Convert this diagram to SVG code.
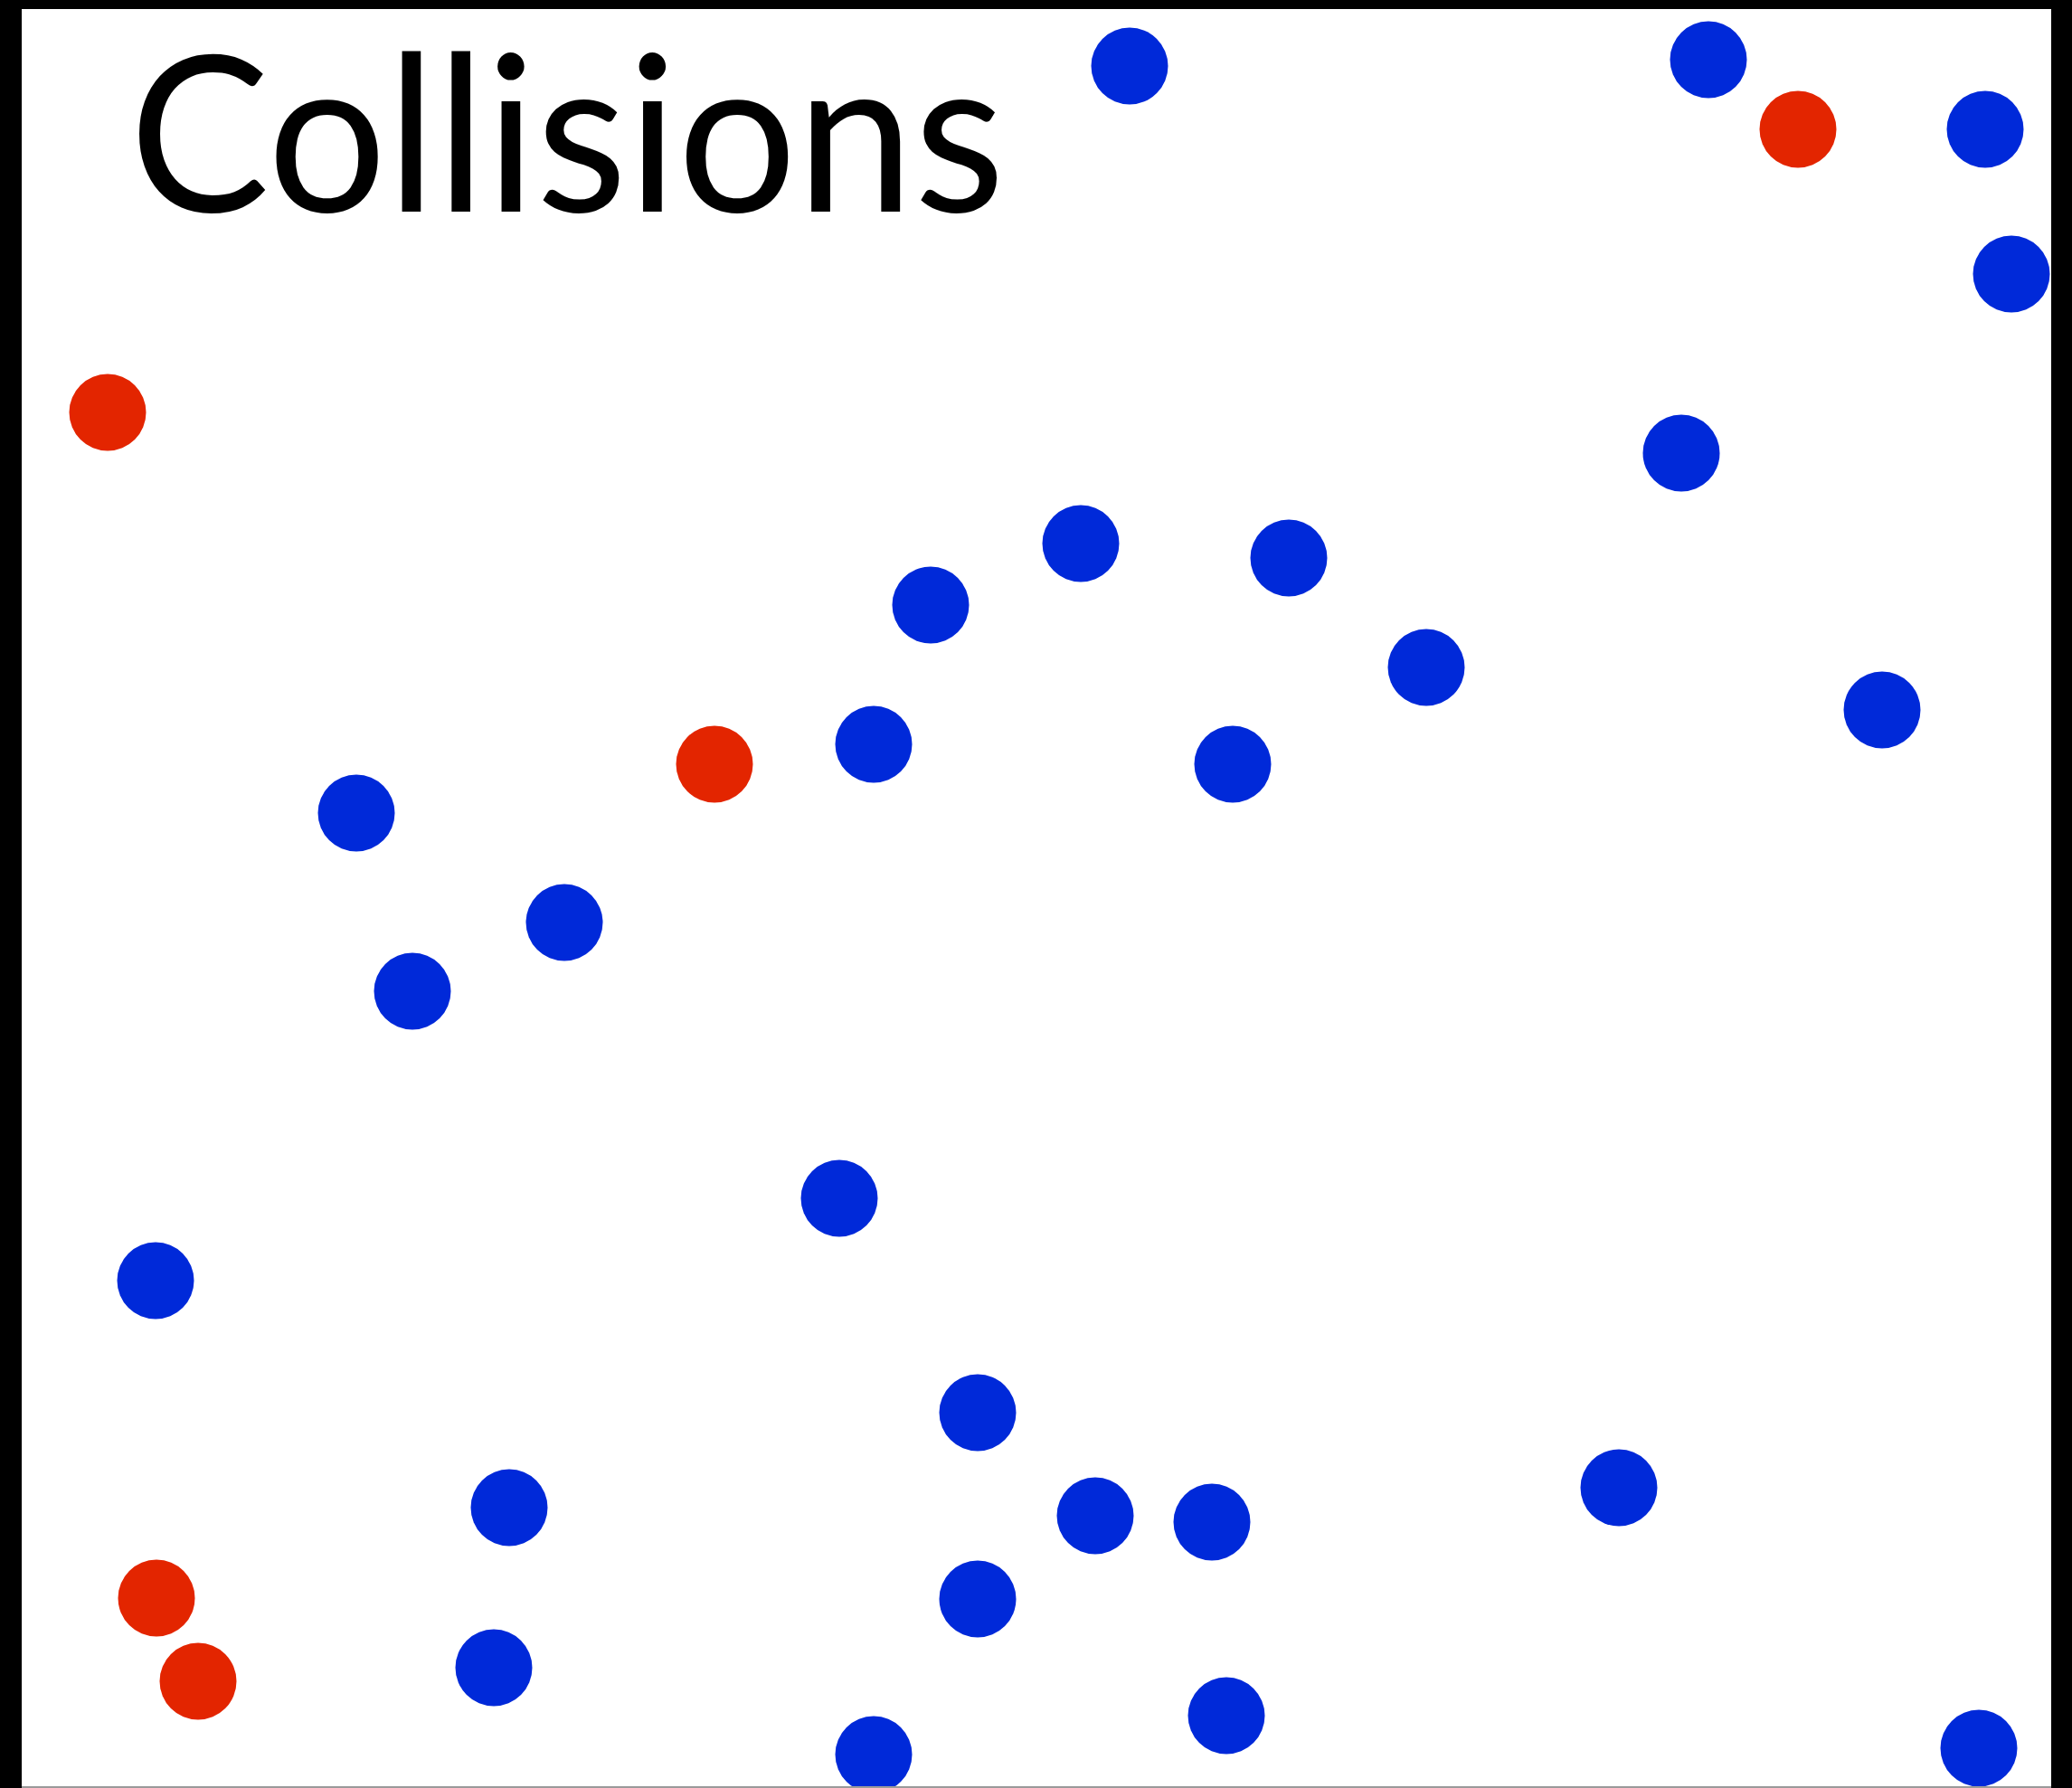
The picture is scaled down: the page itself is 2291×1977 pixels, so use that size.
<svg xmlns="http://www.w3.org/2000/svg" width="2291" height="1977" viewBox="0 0 2291 1977">
<style>
.b{fill:#0029d9}
.r{fill:#e32500}
.frame{fill:#000}
.title{font-family:Lato,"Open Sans","Liberation Sans",sans-serif;font-size:240px;fill:#000}
</style>
<rect x="0" y="0" width="2291" height="1977" fill="#ffffff"/>
<g id="dots">
<circle class="b" cx="1249" cy="73" r="42.5"/>
<circle class="b" cx="1889" cy="66" r="42.5"/>
<circle class="b" cx="2195" cy="143" r="42.5"/>
<circle class="b" cx="2224" cy="303" r="42.5"/>
<circle class="b" cx="1859" cy="501" r="42.5"/>
<circle class="b" cx="1195" cy="601" r="42.5"/>
<circle class="b" cx="1425" cy="617" r="42.5"/>
<circle class="b" cx="1029" cy="669" r="42.5"/>
<circle class="b" cx="1577" cy="738" r="42.5"/>
<circle class="b" cx="2081" cy="785" r="42.5"/>
<circle class="b" cx="966" cy="823" r="42.5"/>
<circle class="b" cx="1363" cy="845" r="42.5"/>
<circle class="b" cx="394" cy="899" r="42.5"/>
<circle class="b" cx="624" cy="1020" r="42.5"/>
<circle class="b" cx="456" cy="1096" r="42.5"/>
<circle class="b" cx="928" cy="1325" r="42.5"/>
<circle class="b" cx="172" cy="1416" r="42.5"/>
<circle class="b" cx="1081" cy="1562" r="42.5"/>
<circle class="b" cx="563" cy="1667" r="42.5"/>
<circle class="b" cx="1211" cy="1676" r="42.5"/>
<circle class="b" cx="1340" cy="1683" r="42.5"/>
<circle class="b" cx="1790" cy="1645" r="42.5"/>
<circle class="b" cx="1081" cy="1768" r="42.5"/>
<circle class="b" cx="546" cy="1844" r="42.5"/>
<circle class="b" cx="1356" cy="1897" r="42.5"/>
<circle class="b" cx="966" cy="1940" r="42.5"/>
<circle class="b" cx="2188" cy="1933" r="42.5"/>
<circle class="r" cx="1988" cy="143" r="42.5"/>
<circle class="r" cx="119" cy="456" r="42.5"/>
<circle class="r" cx="790" cy="845" r="42.5"/>
<circle class="r" cx="173" cy="1767" r="42.5"/>
<circle class="r" cx="219" cy="1859" r="42.5"/>
</g>
<g id="frame">
<rect class="frame" x="0" y="0" width="2291" height="10"/>
<rect class="frame" x="0" y="0" width="24" height="1977"/>
<rect class="frame" x="2268" y="0" width="23" height="1977"/>
<rect x="24" y="1975" width="2244" height="2" fill="#9a9a9a"/>
</g>
<text class="title" x="143" y="234" textLength="968" lengthAdjust="spacingAndGlyphs">Collisions</text>
</svg>
